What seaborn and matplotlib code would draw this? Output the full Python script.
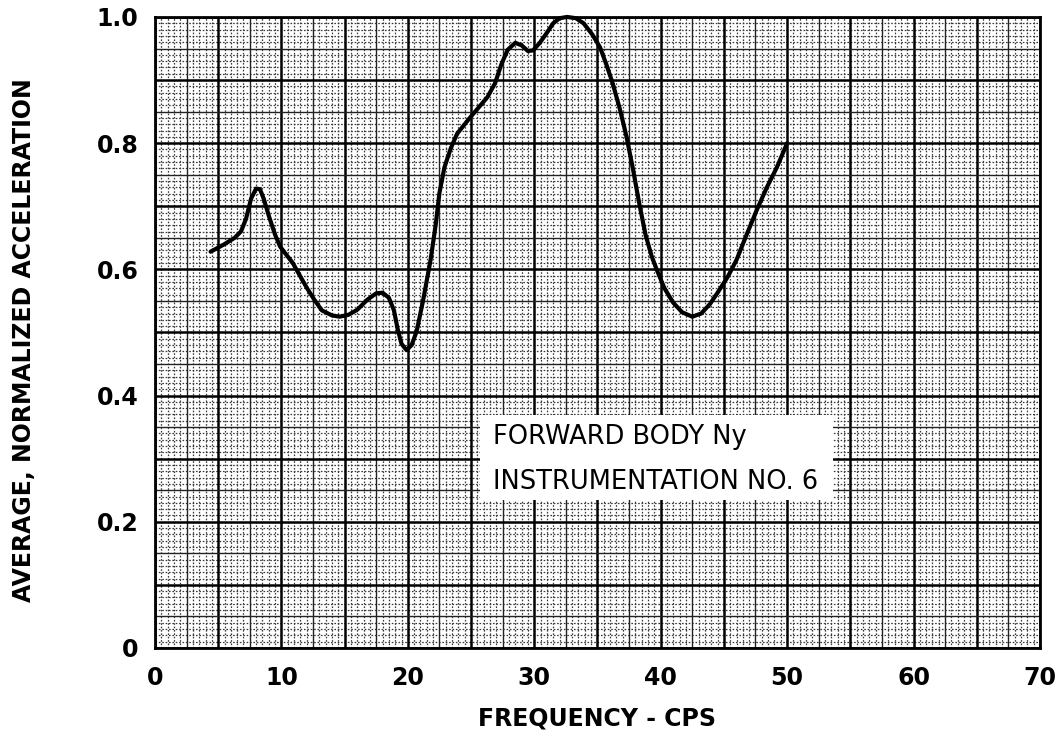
import numpy as np
import matplotlib
matplotlib.use("Agg")
import matplotlib.pyplot as plt
from matplotlib.patches import Rectangle
import seaborn as sns

# Measured response curve
freq_cps = [4.4, 5.5, 6.3, 6.8, 7.2, 7.6, 8.0, 8.3, 8.6, 9.0, 9.5, 9.9, 10.9,
            12.0, 12.6, 13.2, 14.0, 14.6, 15.3, 16.0, 16.8, 17.5, 18.0, 18.5,
            18.9, 19.2, 19.5, 19.9, 20.3, 20.7, 21.2, 21.8, 22.2, 22.5, 22.9,
            23.4, 23.9, 24.9, 26.3, 26.9, 27.4, 27.9, 28.5, 29.0, 29.5, 29.9,
            30.4, 30.9, 31.5, 32.0, 32.6, 33.3, 33.9, 34.6, 35.2, 35.7, 36.2,
            36.8, 37.3, 37.8, 38.3, 38.8, 39.3, 39.7, 40.3, 41.0, 41.7, 42.5,
            43.2, 43.9, 44.5, 45.3, 46.0, 46.8, 47.6, 48.4, 49.2, 50.0]
avg_accel = [0.628, 0.640, 0.650, 0.660, 0.680, 0.712, 0.728, 0.727, 0.712, 0.685,
             0.655, 0.636, 0.610, 0.571, 0.552, 0.535, 0.527, 0.525, 0.528, 0.536,
             0.552, 0.562, 0.563, 0.555, 0.535, 0.505, 0.482, 0.472, 0.480, 0.502,
             0.550, 0.615, 0.670, 0.721, 0.762, 0.792, 0.815, 0.840, 0.873, 0.895,
             0.925, 0.948, 0.959, 0.955, 0.946, 0.947, 0.958, 0.972, 0.990, 0.998,
             1.000, 0.998, 0.990, 0.972, 0.952, 0.925, 0.895, 0.852, 0.810, 0.760,
             0.705, 0.655, 0.620, 0.599, 0.570, 0.547, 0.532, 0.525, 0.530, 0.545,
             0.563, 0.588, 0.615, 0.655, 0.694, 0.730, 0.762, 0.800]

x_ticks = [0, 10, 20, 30, 40, 50, 60, 70]
y_ticks = [0, 0.2, 0.4, 0.6, 0.8, 1.0]
y_tick_labels = ["0", "0.2", "0.4", "0.6", "0.8", "1.0"]

x_label = "FREQUENCY - CPS"
y_label = "AVERAGE, NORMALIZED ACCELERATION"
note_lines = ["FORWARD BODY Ny", "INSTRUMENTATION NO. 6"]

sns.set_style("white")
plt.rcParams["font.family"] = ["DejaVu Sans"]
plt.rcParams["text.color"] = "black"
plt.rcParams["axes.labelcolor"] = "black"
plt.rcParams["xtick.color"] = "black"
plt.rcParams["ytick.color"] = "black"

fig = plt.figure(figsize=(10.63, 7.34), dpi=100)
ax = fig.add_axes([0.1458, 0.1172, 0.8325, 0.8597])
ax.set_xlim(0, 70)
ax.set_ylim(0, 1.0)

# Graph-paper grid: fine dotted rulings, medium half-divisions, heavy divisions
dot = (0, (1.3, 1.4))
for xv in np.arange(0, 70.001, 0.5):
    if abs(xv / 5 - round(xv / 5)) < 1e-6:
        ax.axvline(xv, color="black", lw=1.8, zorder=1)
    elif abs(xv / 2.5 - round(xv / 2.5)) < 1e-6:
        ax.axvline(xv, color="#222222", lw=1.0, zorder=1)
    else:
        ax.axvline(xv, color="#3a3a3a", lw=0.9, ls=dot, zorder=0.5)
for yv in np.arange(0, 1.0001, 0.01):
    k = round(yv * 100)
    if k % 10 == 0:
        ax.axhline(yv, color="black", lw=1.8, zorder=1)
    elif k % 5 == 0:
        ax.axhline(yv, color="#222222", lw=1.0, zorder=1)
    else:
        ax.axhline(yv, color="#3a3a3a", lw=0.9, ls=dot, zorder=0.5)

# Annotation panel
ax.add_patch(Rectangle((25.7, 0.235), 27.9, 0.134, facecolor="white",
                       edgecolor="none", zorder=2))
ax.text(26.7, 0.334, note_lines[0], fontsize=18.5, va="center", ha="left",
        color="black", zorder=3)
ax.text(26.7, 0.263, note_lines[1], fontsize=18.5, va="center", ha="left",
        color="black", zorder=3)

sns.lineplot(x=freq_cps, y=avg_accel, ax=ax, color="black", lw=3.0,
             zorder=4, clip_on=False, sort=False)
curve = ax.lines[-1]
curve.set_solid_capstyle("round")
curve.set_solid_joinstyle("round")

ax.set_xticks(x_ticks)
ax.set_xticklabels([str(v) for v in x_ticks])
ax.set_yticks(y_ticks)
ax.set_yticklabels(y_tick_labels)
ax.tick_params(axis="both", length=0, labelsize=17, labelcolor="black")
ax.tick_params(axis="x", pad=13)
ax.tick_params(axis="y", pad=12)
for t in ax.get_xticklabels() + ax.get_yticklabels():
    t.set_fontweight("bold")

ax.set_xlabel(x_label, fontsize=17, fontweight="bold", color="black")
ax.set_ylabel(y_label, fontsize=17, fontweight="bold", color="black")
ax.xaxis.set_label_coords(0.5, -0.0935)
ax.yaxis.set_label_coords(-0.134, 0.488)

for s in ax.spines.values():
    s.set_visible(True)
    s.set_color("black")
    s.set_linewidth(2.0)
    s.set_zorder(5)

fig.savefig("out.png", dpi=100, facecolor="white")
